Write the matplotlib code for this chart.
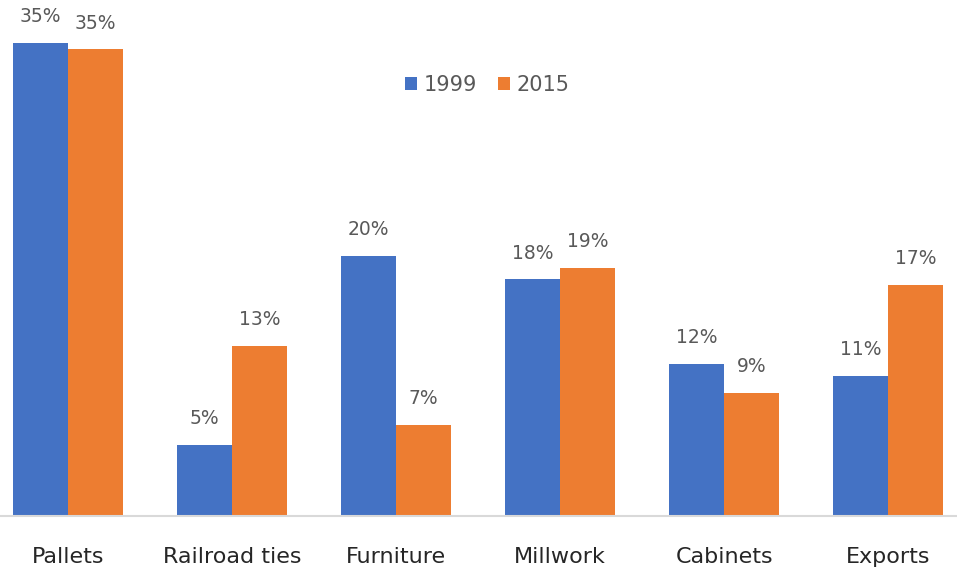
import numpy as np
import matplotlib
matplotlib.use("Agg")
from matplotlib import pyplot as plt

categories = ["Pallets", "Railroad ties", "Furniture", "Millwork", "Cabinets", "Exports"]
share_1999 = [36.4, 5.5, 20.0, 18.2, 11.7, 10.8]
share_2015 = [35.9, 13.1, 7.0, 19.1, 9.5, 17.8]
labels_1999 = ["35%", "5%", "20%", "18%", "12%", "11%"]
labels_2015 = ["35%", "13%", "7%", "19%", "9%", "17%"]

blue = "#4472C4"
orange = "#ED7D31"

fig = plt.figure(figsize=(9.57, 5.73), dpi=100)
ax = fig.add_axes([0, 57 / 573, 1, 516 / 573])

x = np.arange(len(categories))
w = 0.335
b1 = ax.bar(x - w / 2, share_1999, w, color=blue, label="1999")
b2 = ax.bar(x + w / 2, share_2015, w, color=orange, label="2015")

for bars, labs in ((b1, labels_1999), (b2, labels_2015)):
    for bar, lab in zip(bars, labs):
        ax.annotate(lab, (bar.get_x() + bar.get_width() / 2, bar.get_height()),
                    xytext=(0, 19), textcoords="offset points", ha="center", va="center",
                    fontsize=13.5, color="#595959")

ax.set_xlim(-0.415, 5.42)
ax.set_ylim(0, 39.7)
ax.set_yticks([])
ax.set_xticks(x)
ax.set_xticklabels(categories, fontsize=16, color="#262626")
ax.tick_params(axis="x", length=0, pad=22)
for s in ("top", "right", "left"):
    ax.spines[s].set_visible(False)
ax.spines["bottom"].set_color("#D9D9D9")
ax.spines["bottom"].set_linewidth(1.5)

ax.legend(loc="center", bbox_to_anchor=(487 / 957, 1 - 85 / 516), ncol=2, frameon=False,
          fontsize=15, labelcolor="#595959", handlelength=0.6, handleheight=0.6,
          handletextpad=0.3, columnspacing=1.0)

fig.savefig("out.png", dpi=100)
